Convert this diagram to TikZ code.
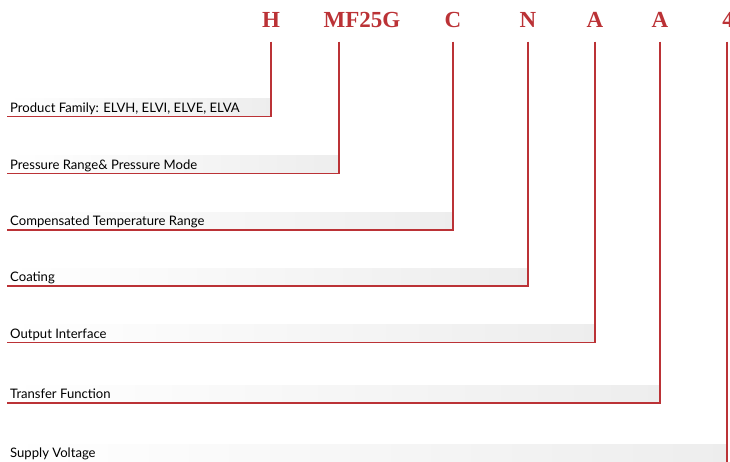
\documentclass[tikz,border=0pt]{standalone}
\usepackage{fontspec}
\setmainfont{Lato}
\newfontfamily\codefont{Liberation Serif}
\usepackage{xcolor}
\usetikzlibrary{positioning}
\definecolor{codered}{HTML}{BB3236}

\begin{document}
\begin{tikzpicture}[x=1pt, y=-1pt,
  code/.style={font=\codefont\fontsize{23}{23}\selectfont\bfseries, text=codered,
               anchor=base, inner sep=0pt},
  lbl/.style={font=\fontsize{13.1}{13}\selectfont, anchor=base west, inner sep=0pt},
  band/.style={left color=white, right color=black!7, draw=none},
  codeline/.style={draw=codered, line width=1.8pt},
]
\useasboundingbox (0,0) rectangle (730,461);
% ordering code
\node[code] (hdH) at (271,27.5) {H};
\node[code] (hdMF) at (362,27.5) {MF25G};
\node[code] (hdC) at (453,27.5) {C};
\node[code] (hdN) at (528,27.5) {N};
\node[code] (hdA) at (595,27.5) {A};
\node[code] (hdB) at (660,27.5) {A};
\node[code] (hdV) at (728,27.5) {4};
% shaded bands
\shade[band] (7,98.5) rectangle (271,115.5);
\shade[band] (7,155.5) rectangle (339,172.5);
\shade[band] (7,212) rectangle (453,229);
\shade[band] (7,268) rectangle (528,285);
\shade[band] (7,324.5) rectangle (595,341.5);
\shade[band] (7,385) rectangle (660,402);
\shade[band] (7,444) rectangle (727,461);
% labels
\node[lbl] (lblH) at (10,112) {Product Family: ELVH, ELVI, ELVE, ELVA};
\node[lbl] (lblMF) at (10,169) {Pressure Range\& Pressure Mode};
\node[lbl] (lblC) at (10,225.5) {Compensated Temperature Range};
\node[lbl] (lblN) at (10,281.5) {Coating};
\node[lbl] (lblA) at (10,338) {Output Interface};
\node[lbl] (lblB) at (10,398.5) {Transfer Function};
\node[lbl] (lblV) at (10,457.5) {Supply Voltage};
% connectors
\coordinate (tH) at (271,41.5);   \coordinate (eH) at (7,116.5);
\coordinate (tMF) at (339,41.5);  \coordinate (eMF) at (7,173.5);
\coordinate (tC) at (453,41.5);   \coordinate (eC) at (7,230);
\coordinate (tN) at (528,41.5);   \coordinate (eN) at (7,286);
\coordinate (tA) at (595,41.5);   \coordinate (eA) at (7,342.5);
\coordinate (tB) at (660,41.5);   \coordinate (eB) at (7,403);
\coordinate (tV) at (727,41.5);   \coordinate (eV) at (7,463);
\draw[codeline] (tH) |- (eH);
\draw[codeline] (tMF) |- (eMF);
\draw[codeline] (tC) |- (eC);
\draw[codeline] (tN) |- (eN);
\draw[codeline] (tA) |- (eA);
\draw[codeline] (tB) |- (eB);
\draw[codeline] (tV) |- (eV);
\end{tikzpicture}
\end{document}
